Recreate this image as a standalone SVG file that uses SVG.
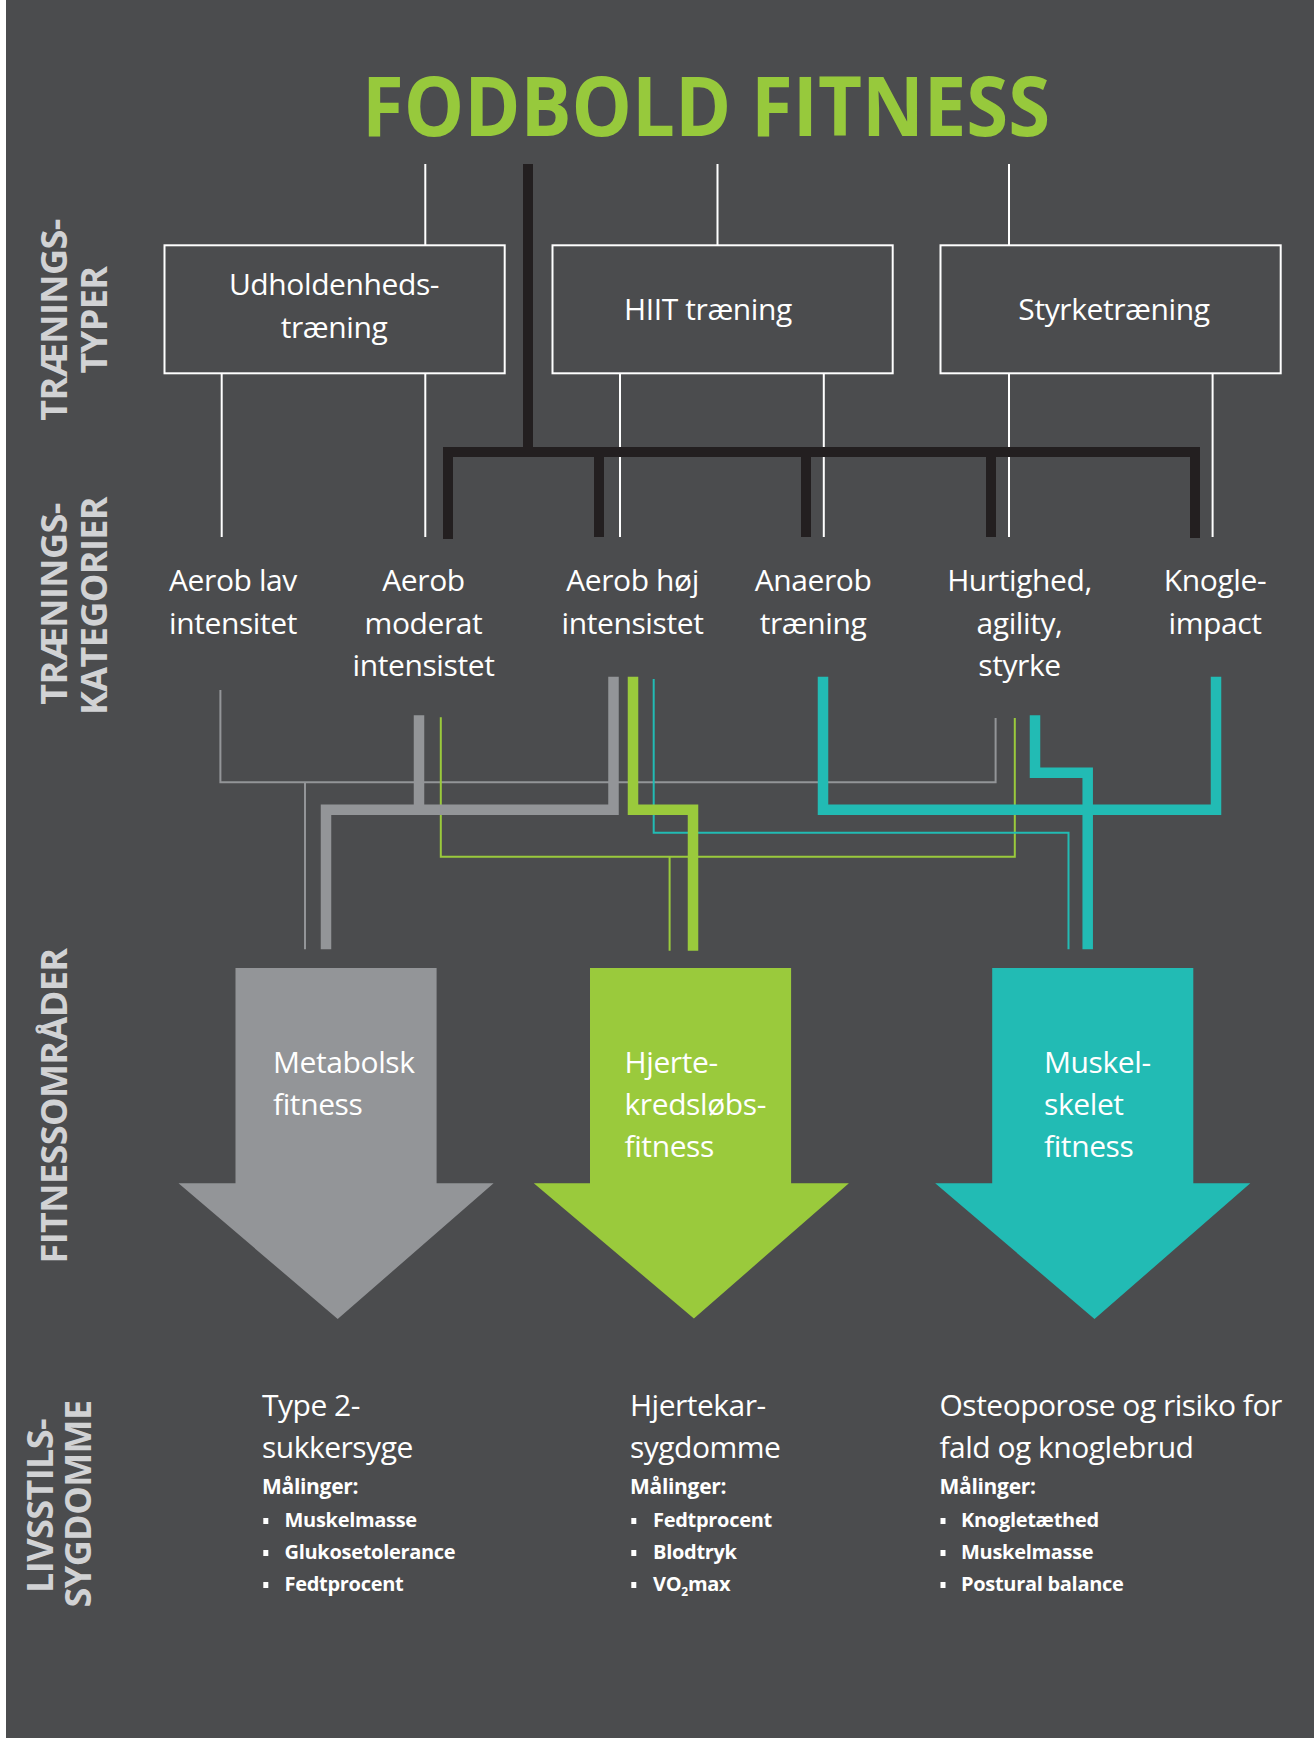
<svg xmlns="http://www.w3.org/2000/svg" width="1314" height="1738" viewBox="0 0 1314 1738">
  <style>
    .bg { fill: #4b4c4e; }
    .t { font-family: "Open Sans", "Noto Sans", sans-serif; fill: #ffffff; }
    .lbl { font-size: 30px; font-weight: 500; letter-spacing: -0.4px; }
    .mid { text-anchor: middle; }
    .axis { font-family: "Open Sans", "Noto Sans", sans-serif; font-size: 36px; font-weight: 700; fill: #d1d2d4; text-anchor: middle; letter-spacing: -0.6px; }
    .head { font-size: 30px; font-weight: 500; letter-spacing: -0.5px; }
    .meas { font-size: 21px; font-weight: 700; letter-spacing: -0.3px; }
    .item { font-size: 20px; font-weight: 700; letter-spacing: -0.3px; }
    .box { fill: none; stroke: #ffffff; stroke-width: 2; }
    .wire { fill: none; stroke: #ffffff; stroke-width: 2; }
    .trunk { fill: none; stroke: #231f20; stroke-width: 10; stroke-linejoin: miter; }
    .thin { fill: none; stroke-width: 2; }
    .thick { fill: none; stroke-width: 10.5; stroke-linejoin: miter; }
    .gray { stroke: #939598; }
    .green { stroke: #9aca3c; }
    .cyan { stroke: #22bbb4; }
    .bullet { fill: #ffffff; }
  </style>

  <!-- page -->
  <rect x="0" y="0" width="1314" height="1738" fill="#ffffff"/>
  <rect class="bg" x="6" y="0" width="1308" height="1738"/>

  <!-- title -->
  <text id="title" x="362" y="136" font-family="Open Sans, Noto Sans, sans-serif" font-size="83" font-weight="700" fill="#97c93c" textLength="688" lengthAdjust="spacingAndGlyphs">FODBOLD FITNESS</text>

  <!-- row labels (rotated) -->
  <g id="axis-labels">
    <text class="axis" transform="translate(66.7,320) rotate(-90)">TRÆNINGS-</text>
    <text class="axis" transform="translate(106.7,320) rotate(-90)">TYPER</text>
    <text class="axis" transform="translate(66.7,604) rotate(-90)">TRÆNINGS-</text>
    <text class="axis" transform="translate(106.7,606) rotate(-90)">KATEGORIER</text>
    <text class="axis" transform="translate(66.7,1106) rotate(-90)">FITNESSOMRÅDER</text>
    <text class="axis" transform="translate(53.3,1506) rotate(-90)">LIVSSTILS-</text>
    <text class="axis" transform="translate(90.7,1504) rotate(-90)">SYGDOMME</text>
  </g>

  <!-- connectors -->
  <g id="connectors">
    <!-- white hairlines: title to training types, types to categories -->
    <path class="wire" d="M425.3,164 V245 M717.5,164 V245 M1009,164 V245"/>
    <path class="wire" d="M221.7,374 V537 M425.3,374 V537 M620,374 V537 M823.8,374 V537 M1009,374 V537 M1212.6,374 V537"/>
    <!-- black football trunk and branches -->
    <path class="trunk" d="M528,164 V452 M448,539 V452 H1195 V538 M599,452 V537 M806,452 V537 M991,452 V537"/>

    <!-- thin links -->
    <path class="thin gray" d="M220.4,690 V782.3 H995.6 V718 M305,782.3 V949.3"/>
    <path class="thin green" d="M440.8,717.3 V856.7 H1014.8 V718 M669.6,856.7 V950.7"/>
    <path class="thin cyan" d="M653.7,679 V832.7 H1068.5 V949.3"/>

    <!-- thick links -->
    <path class="thick gray" d="M613.5,676.7 V809.7 H326 V949.3 M419,715.3 V809.7"/>
    <path class="thick green" d="M633,676.7 V809.7 H693 V950.7"/>
    <path class="thick cyan" d="M823,676.7 V809.7 H1216 V676.7"/>
    <path class="thick cyan" d="M1035,715.3 V772.7 H1087.7 V949.3"/>
  </g>

  <!-- training types -->
  <g id="type-endurance">
    <rect class="box" x="164.5" y="245.3" width="340.2" height="128"/>
    <text class="t lbl mid" x="334" y="295">Udholdenheds-</text>
    <text class="t lbl mid" x="334" y="338">træning</text>
  </g>
  <g id="type-hiit">
    <rect class="box" x="552.5" y="245.3" width="340.2" height="128"/>
    <text class="t lbl mid" x="708" y="320">HIIT træning</text>
  </g>
  <g id="type-strength">
    <rect class="box" x="940.5" y="245.3" width="340.2" height="128"/>
    <text class="t lbl mid" x="1114" y="320">Styrketræning</text>
  </g>

  <!-- training categories -->
  <g id="cat-aerob-low">
    <text class="t lbl mid" x="233" y="591">Aerob lav</text>
    <text class="t lbl mid" x="233" y="633.5">intensitet</text>
  </g>
  <g id="cat-aerob-moderate">
    <text class="t lbl mid" x="423.5" y="591">Aerob</text>
    <text class="t lbl mid" x="423.5" y="633.5">moderat</text>
    <text class="t lbl mid" x="423.5" y="676">intensistet</text>
  </g>
  <g id="cat-aerob-high">
    <text class="t lbl mid" x="632.5" y="591">Aerob høj</text>
    <text class="t lbl mid" x="632.5" y="633.5">intensistet</text>
  </g>
  <g id="cat-anaerob">
    <text class="t lbl mid" x="813" y="591">Anaerob</text>
    <text class="t lbl mid" x="813" y="633.5">træning</text>
  </g>
  <g id="cat-speed">
    <text class="t lbl mid" x="1019.5" y="591">Hurtighed,</text>
    <text class="t lbl mid" x="1019.5" y="633.5">agility,</text>
    <text class="t lbl mid" x="1019.5" y="676">styrke</text>
  </g>
  <g id="cat-bone">
    <text class="t lbl mid" x="1215" y="591">Knogle-</text>
    <text class="t lbl mid" x="1215" y="633.5">impact</text>
  </g>

  <!-- fitness areas -->
  <g id="area-metabolic">
    <path fill="#939598" d="M235.5,968 H436.6 V1183.3 H493.6 L337.7,1319 L178.5,1183.3 H235.5 Z"/>
    <text class="t lbl" x="273" y="1073">Metabolsk</text>
    <text class="t lbl" x="273" y="1115">fitness</text>
  </g>
  <g id="area-cardio">
    <path fill="#9aca3c" d="M590,968 H791.1 V1183.3 H848.9 L693.9,1318.5 L533.8,1183.3 H590 Z"/>
    <text class="t lbl" x="624.5" y="1073">Hjerte-</text>
    <text class="t lbl" x="624.5" y="1115">kredsløbs-</text>
    <text class="t lbl" x="624.5" y="1157">fitness</text>
  </g>
  <g id="area-musculoskeletal">
    <path fill="#22bbb4" d="M992.2,968 H1193.3 V1183.3 H1250.3 L1094.5,1319 L935.2,1183.3 H992.2 Z"/>
    <text class="t lbl" x="1044" y="1073">Muskel-</text>
    <text class="t lbl" x="1044" y="1115">skelet</text>
    <text class="t lbl" x="1044" y="1157">fitness</text>
  </g>

  <!-- lifestyle diseases -->
  <g id="disease-diabetes">
    <text class="t head" x="262" y="1416">Type 2-</text>
    <text class="t head" x="262" y="1458">sukkersyge</text>
    <text class="t meas" x="262" y="1494.3">Målinger:</text>
    <rect class="bullet" x="263.3" y="1518" width="5" height="6"/>
    <text class="t item" x="284.5" y="1526.5">Muskelmasse</text>
    <rect class="bullet" x="263.3" y="1550" width="5" height="6"/>
    <text class="t item" x="284.5" y="1558.5">Glukosetolerance</text>
    <rect class="bullet" x="263.3" y="1582" width="5" height="6"/>
    <text class="t item" x="284.5" y="1590.5">Fedtprocent</text>
  </g>
  <g id="disease-cardio">
    <text class="t head" x="630" y="1416">Hjertekar-</text>
    <text class="t head" x="630" y="1458">sygdomme</text>
    <text class="t meas" x="630" y="1494.3">Målinger:</text>
    <rect class="bullet" x="631.3" y="1518" width="5" height="6"/>
    <text class="t item" x="653" y="1526.5">Fedtprocent</text>
    <rect class="bullet" x="631.3" y="1550" width="5" height="6"/>
    <text class="t item" x="653" y="1558.5">Blodtryk</text>
    <rect class="bullet" x="631.3" y="1582" width="5" height="6"/>
    <text class="t item" x="653" y="1590.5">VO<tspan font-size="12" dy="5">2</tspan><tspan dy="-5">max</tspan></text>
  </g>
  <g id="disease-bone">
    <text class="t head" x="939.5" y="1416">Osteoporose og risiko for</text>
    <text class="t head" x="939.5" y="1458">fald og knoglebrud</text>
    <text class="t meas" x="939.5" y="1494.3">Målinger:</text>
    <rect class="bullet" x="940.5" y="1518" width="5" height="6"/>
    <text class="t item" x="961" y="1526.5">Knogletæthed</text>
    <rect class="bullet" x="940.5" y="1550" width="5" height="6"/>
    <text class="t item" x="961" y="1558.5">Muskelmasse</text>
    <rect class="bullet" x="940.5" y="1582" width="5" height="6"/>
    <text class="t item" x="961" y="1590.5">Postural balance</text>
  </g>
</svg>
